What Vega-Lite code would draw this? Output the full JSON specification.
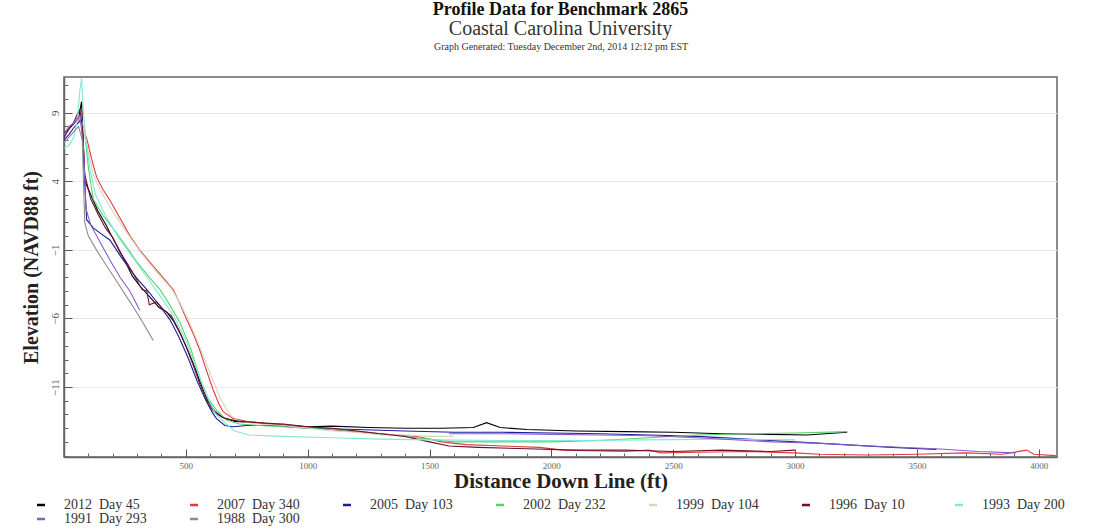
{
  "$schema": "https://vega.github.io/schema/vega-lite/v6.json",
  "width": 993,
  "height": 380,
  "autosize": {"type": "none"},
  "padding": {"left": 64, "top": 77, "right": 50, "bottom": 75},
  "background": "white",
  "config": {
    "font": "Liberation Serif",
    "view": {"stroke": "#666666", "strokeWidth": 1.5}
  },
  "title": {
    "text": "Profile Data for Benchmark 2865",
    "subtitle": "Coastal Carolina University",
    "font": "Liberation Serif",
    "fontSize": 18,
    "fontWeight": "bold",
    "color": "#111111",
    "subtitleFont": "Liberation Serif",
    "subtitleFontSize": 20,
    "subtitleColor": "#333333",
    "subtitlePadding": 0,
    "anchor": "middle",
    "offset": 2
  },
  "data": {
    "values": [
      {"s": "2012\u2002Day 45", "p": 1, "x": 0, "y": 7.5}, {"s": "2012\u2002Day 45", "p": 1, "x": 20, "y": 7.8}, {"s": "2012\u2002Day 45", "p": 1, "x": 40, "y": 8.2}, {"s": "2012\u2002Day 45", "p": 1, "x": 60, "y": 8.6}, {"s": "2012\u2002Day 45", "p": 1, "x": 72, "y": 9.8}, {"s": "2012\u2002Day 45", "p": 1, "x": 78, "y": 7.2}, {"s": "2012\u2002Day 45", "p": 1, "x": 86, "y": 4.0}, {"s": "2012\u2002Day 45", "p": 1, "x": 110, "y": 3.0}, {"s": "2012\u2002Day 45", "p": 1, "x": 140, "y": 1.8}, {"s": "2012\u2002Day 45", "p": 1, "x": 170, "y": 0.9}, {"s": "2012\u2002Day 45", "p": 1, "x": 190, "y": 0.2}, {"s": "2012\u2002Day 45", "p": 1, "x": 220, "y": -0.8}, {"s": "2012\u2002Day 45", "p": 1, "x": 250, "y": -1.8}, {"s": "2012\u2002Day 45", "p": 1, "x": 280, "y": -2.9}, {"s": "2012\u2002Day 45", "p": 1, "x": 310, "y": -3.6}, {"s": "2012\u2002Day 45", "p": 1, "x": 340, "y": -4.2}, {"s": "2012\u2002Day 45", "p": 1, "x": 360, "y": -4.6}, {"s": "2012\u2002Day 45", "p": 1, "x": 390, "y": -5.2}, {"s": "2012\u2002Day 45", "p": 1, "x": 420, "y": -5.5}, {"s": "2012\u2002Day 45", "p": 1, "x": 450, "y": -6.2}, {"s": "2012\u2002Day 45", "p": 1, "x": 480, "y": -7.2}, {"s": "2012\u2002Day 45", "p": 1, "x": 510, "y": -8.4}, {"s": "2012\u2002Day 45", "p": 1, "x": 540, "y": -9.7}, {"s": "2012\u2002Day 45", "p": 1, "x": 560, "y": -10.7}, {"s": "2012\u2002Day 45", "p": 1, "x": 590, "y": -12.0}, {"s": "2012\u2002Day 45", "p": 1, "x": 620, "y": -12.8}, {"s": "2012\u2002Day 45", "p": 1, "x": 650, "y": -13.2}, {"s": "2012\u2002Day 45", "p": 1, "x": 700, "y": -13.5}, {"s": "2012\u2002Day 45", "p": 1, "x": 800, "y": -13.6}, {"s": "2012\u2002Day 45", "p": 1, "x": 900, "y": -13.8}, {"s": "2012\u2002Day 45", "p": 1, "x": 1000, "y": -13.9}, {"s": "2012\u2002Day 45", "p": 1, "x": 1100, "y": -13.85}, {"s": "2012\u2002Day 45", "p": 1, "x": 1250, "y": -13.95}, {"s": "2012\u2002Day 45", "p": 1, "x": 1400, "y": -14.0}, {"s": "2012\u2002Day 45", "p": 1, "x": 1550, "y": -14.0}, {"s": "2012\u2002Day 45", "p": 1, "x": 1680, "y": -13.95}, {"s": "2012\u2002Day 45", "p": 1, "x": 1734, "y": -13.6}, {"s": "2012\u2002Day 45", "p": 1, "x": 1790, "y": -13.95}, {"s": "2012\u2002Day 45", "p": 1, "x": 1900, "y": -14.1}, {"s": "2012\u2002Day 45", "p": 1, "x": 2100, "y": -14.2}, {"s": "2012\u2002Day 45", "p": 1, "x": 2300, "y": -14.25}, {"s": "2012\u2002Day 45", "p": 1, "x": 2500, "y": -14.3}, {"s": "2012\u2002Day 45", "p": 1, "x": 2700, "y": -14.4}, {"s": "2012\u2002Day 45", "p": 1, "x": 2900, "y": -14.45}, {"s": "2012\u2002Day 45", "p": 1, "x": 3050, "y": -14.5}, {"s": "2012\u2002Day 45", "p": 1, "x": 3214, "y": -14.3},

      {"s": "2007\u2002Day 340", "p": 1, "x": 50, "y": 8.6}, {"s": "2007\u2002Day 340", "p": 1, "x": 72, "y": 8.3}, {"s": "2007\u2002Day 340", "p": 1, "x": 95, "y": 7.0}, {"s": "2007\u2002Day 340", "p": 1, "x": 115, "y": 5.5}, {"s": "2007\u2002Day 340", "p": 1, "x": 134, "y": 4.3}, {"s": "2007\u2002Day 340", "p": 1, "x": 160, "y": 3.4}, {"s": "2007\u2002Day 340", "p": 1, "x": 189, "y": 2.6}, {"s": "2007\u2002Day 340", "p": 1, "x": 230, "y": 1.3}, {"s": "2007\u2002Day 340", "p": 1, "x": 271, "y": 0.0}, {"s": "2007\u2002Day 340", "p": 1, "x": 310, "y": -1.0}, {"s": "2007\u2002Day 340", "p": 1, "x": 352, "y": -1.9}, {"s": "2007\u2002Day 340", "p": 1, "x": 400, "y": -2.9}, {"s": "2007\u2002Day 340", "p": 1, "x": 448, "y": -3.9}, {"s": "2007\u2002Day 340", "p": 1, "x": 475, "y": -4.9}, {"s": "2007\u2002Day 340", "p": 1, "x": 504, "y": -6.1}, {"s": "2007\u2002Day 340", "p": 1, "x": 530, "y": -7.1}, {"s": "2007\u2002Day 340", "p": 1, "x": 557, "y": -8.3}, {"s": "2007\u2002Day 340", "p": 1, "x": 585, "y": -9.8}, {"s": "2007\u2002Day 340", "p": 1, "x": 612, "y": -11.2}, {"s": "2007\u2002Day 340", "p": 1, "x": 635, "y": -12.2}, {"s": "2007\u2002Day 340", "p": 1, "x": 653, "y": -12.8}, {"s": "2007\u2002Day 340", "p": 1, "x": 694, "y": -13.3}, {"s": "2007\u2002Day 340", "p": 1, "x": 750, "y": -13.5}, {"s": "2007\u2002Day 340", "p": 1, "x": 850, "y": -13.7}, {"s": "2007\u2002Day 340", "p": 1, "x": 950, "y": -13.8}, {"s": "2007\u2002Day 340", "p": 1, "x": 1050, "y": -14.0}, {"s": "2007\u2002Day 340", "p": 1, "x": 1150, "y": -14.2}, {"s": "2007\u2002Day 340", "p": 1, "x": 1300, "y": -14.4}, {"s": "2007\u2002Day 340", "p": 1, "x": 1450, "y": -14.6}, {"s": "2007\u2002Day 340", "p": 1, "x": 1550, "y": -15.0}, {"s": "2007\u2002Day 340", "p": 1, "x": 1650, "y": -15.2}, {"s": "2007\u2002Day 340", "p": 1, "x": 1800, "y": -15.3}, {"s": "2007\u2002Day 340", "p": 1, "x": 1950, "y": -15.4}, {"s": "2007\u2002Day 340", "p": 1, "x": 2050, "y": -15.6}, {"s": "2007\u2002Day 340", "p": 1, "x": 2300, "y": -15.7}, {"s": "2007\u2002Day 340", "p": 1, "x": 2400, "y": -15.6}, {"s": "2007\u2002Day 340", "p": 1, "x": 2450, "y": -15.8}, {"s": "2007\u2002Day 340", "p": 1, "x": 2600, "y": -15.75}, {"s": "2007\u2002Day 340", "p": 1, "x": 2800, "y": -15.7}, {"s": "2007\u2002Day 340", "p": 1, "x": 3000, "y": -15.8}, {"s": "2007\u2002Day 340", "p": 1, "x": 3100, "y": -15.9}, {"s": "2007\u2002Day 340", "p": 1, "x": 3300, "y": -15.95}, {"s": "2007\u2002Day 340", "p": 1, "x": 3500, "y": -15.9}, {"s": "2007\u2002Day 340", "p": 1, "x": 3700, "y": -15.8}, {"s": "2007\u2002Day 340", "p": 1, "x": 3850, "y": -15.9}, {"s": "2007\u2002Day 340", "p": 1, "x": 3950, "y": -15.6}, {"s": "2007\u2002Day 340", "p": 1, "x": 3980, "y": -15.9}, {"s": "2007\u2002Day 340", "p": 1, "x": 4070, "y": -16.0},

      {"s": "2005\u2002Day 103", "p": 1, "x": 0, "y": 7.0}, {"s": "2005\u2002Day 103", "p": 1, "x": 20, "y": 7.4}, {"s": "2005\u2002Day 103", "p": 1, "x": 40, "y": 7.9}, {"s": "2005\u2002Day 103", "p": 1, "x": 60, "y": 8.3}, {"s": "2005\u2002Day 103", "p": 1, "x": 75, "y": 8.5}, {"s": "2005\u2002Day 103", "p": 1, "x": 85, "y": 4.0}, {"s": "2005\u2002Day 103", "p": 1, "x": 93, "y": 1.2}, {"s": "2005\u2002Day 103", "p": 1, "x": 120, "y": 0.6}, {"s": "2005\u2002Day 103", "p": 1, "x": 150, "y": 0.2}, {"s": "2005\u2002Day 103", "p": 1, "x": 189, "y": -0.3}, {"s": "2005\u2002Day 103", "p": 1, "x": 230, "y": -1.4}, {"s": "2005\u2002Day 103", "p": 1, "x": 270, "y": -2.4}, {"s": "2005\u2002Day 103", "p": 1, "x": 300, "y": -3.1}, {"s": "2005\u2002Day 103", "p": 1, "x": 340, "y": -3.9}, {"s": "2005\u2002Day 103", "p": 1, "x": 390, "y": -5.0}, {"s": "2005\u2002Day 103", "p": 1, "x": 435, "y": -6.1}, {"s": "2005\u2002Day 103", "p": 1, "x": 470, "y": -7.3}, {"s": "2005\u2002Day 103", "p": 1, "x": 510, "y": -8.9}, {"s": "2005\u2002Day 103", "p": 1, "x": 545, "y": -10.5}, {"s": "2005\u2002Day 103", "p": 1, "x": 580, "y": -11.9}, {"s": "2005\u2002Day 103", "p": 1, "x": 610, "y": -12.9}, {"s": "2005\u2002Day 103", "p": 1, "x": 626, "y": -13.3}, {"s": "2005\u2002Day 103", "p": 1, "x": 660, "y": -13.8}, {"s": "2005\u2002Day 103", "p": 1, "x": 694, "y": -13.9}, {"s": "2005\u2002Day 103", "p": 1, "x": 750, "y": -13.8}, {"s": "2005\u2002Day 103", "p": 1, "x": 850, "y": -13.8}, {"s": "2005\u2002Day 103", "p": 1, "x": 1000, "y": -14.0}, {"s": "2005\u2002Day 103", "p": 1, "x": 1200, "y": -14.1}, {"s": "2005\u2002Day 103", "p": 1, "x": 1400, "y": -14.2}, {"s": "2005\u2002Day 103", "p": 1, "x": 1600, "y": -14.3}, {"s": "2005\u2002Day 103", "p": 1, "x": 1800, "y": -14.3}, {"s": "2005\u2002Day 103", "p": 1, "x": 2000, "y": -14.35}, {"s": "2005\u2002Day 103", "p": 1, "x": 2200, "y": -14.4}, {"s": "2005\u2002Day 103", "p": 1, "x": 2400, "y": -14.5}, {"s": "2005\u2002Day 103", "p": 1, "x": 2600, "y": -14.6}, {"s": "2005\u2002Day 103", "p": 1, "x": 2800, "y": -14.8}, {"s": "2005\u2002Day 103", "p": 1, "x": 3000, "y": -15.0}, {"s": "2005\u2002Day 103", "p": 1, "x": 3200, "y": -15.2}, {"s": "2005\u2002Day 103", "p": 1, "x": 3400, "y": -15.4}, {"s": "2005\u2002Day 103", "p": 1, "x": 3580, "y": -15.55},

      {"s": "2002\u2002Day 232", "p": 1, "x": 60, "y": 8.6}, {"s": "2002\u2002Day 232", "p": 1, "x": 72, "y": 8.5}, {"s": "2002\u2002Day 232", "p": 1, "x": 85, "y": 7.5}, {"s": "2002\u2002Day 232", "p": 1, "x": 100, "y": 5.0}, {"s": "2002\u2002Day 232", "p": 1, "x": 120, "y": 2.7}, {"s": "2002\u2002Day 232", "p": 1, "x": 160, "y": 1.5}, {"s": "2002\u2002Day 232", "p": 1, "x": 200, "y": 0.6}, {"s": "2002\u2002Day 232", "p": 1, "x": 257, "y": -0.8}, {"s": "2002\u2002Day 232", "p": 1, "x": 300, "y": -1.9}, {"s": "2002\u2002Day 232", "p": 1, "x": 350, "y": -3.0}, {"s": "2002\u2002Day 232", "p": 1, "x": 394, "y": -3.9}, {"s": "2002\u2002Day 232", "p": 1, "x": 430, "y": -4.9}, {"s": "2002\u2002Day 232", "p": 1, "x": 476, "y": -6.3}, {"s": "2002\u2002Day 232", "p": 1, "x": 520, "y": -8.2}, {"s": "2002\u2002Day 232", "p": 1, "x": 557, "y": -10.3}, {"s": "2002\u2002Day 232", "p": 1, "x": 590, "y": -11.8}, {"s": "2002\u2002Day 232", "p": 1, "x": 626, "y": -12.7}, {"s": "2002\u2002Day 232", "p": 1, "x": 667, "y": -13.4}, {"s": "2002\u2002Day 232", "p": 1, "x": 720, "y": -13.7}, {"s": "2002\u2002Day 232", "p": 1, "x": 800, "y": -13.8}, {"s": "2002\u2002Day 232", "p": 1, "x": 900, "y": -13.9}, {"s": "2002\u2002Day 232", "p": 1, "x": 1000, "y": -14.0}, {"s": "2002\u2002Day 232", "p": 1, "x": 1100, "y": -14.1}, {"s": "2002\u2002Day 232", "p": 1, "x": 1200, "y": -14.2}, {"s": "2002\u2002Day 232", "p": 1, "x": 1300, "y": -14.4}, {"s": "2002\u2002Day 232", "p": 1, "x": 1400, "y": -14.6}, {"s": "2002\u2002Day 232", "p": 1, "x": 1500, "y": -14.8}, {"s": "2002\u2002Day 232", "p": 1, "x": 1600, "y": -15.0}, {"s": "2002\u2002Day 232", "p": 1, "x": 1800, "y": -15.0}, {"s": "2002\u2002Day 232", "p": 1, "x": 2000, "y": -15.0}, {"s": "2002\u2002Day 232", "p": 1, "x": 2200, "y": -14.9}, {"s": "2002\u2002Day 232", "p": 1, "x": 2400, "y": -14.7}, {"s": "2002\u2002Day 232", "p": 1, "x": 2600, "y": -14.5}, {"s": "2002\u2002Day 232", "p": 1, "x": 2800, "y": -14.4}, {"s": "2002\u2002Day 232", "p": 1, "x": 3000, "y": -14.35}, {"s": "2002\u2002Day 232", "p": 1, "x": 3214, "y": -14.25},

      {"s": "1999\u2002Day 104", "p": 1, "x": 55, "y": 8.8}, {"s": "1999\u2002Day 104", "p": 1, "x": 75, "y": 8.2}, {"s": "1999\u2002Day 104", "p": 1, "x": 95, "y": 6.5}, {"s": "1999\u2002Day 104", "p": 1, "x": 120, "y": 4.5}, {"s": "1999\u2002Day 104", "p": 1, "x": 150, "y": 3.3}, {"s": "1999\u2002Day 104", "p": 1, "x": 200, "y": 1.8}, {"s": "1999\u2002Day 104", "p": 1, "x": 260, "y": 0.2}, {"s": "1999\u2002Day 104", "p": 1, "x": 320, "y": -1.3}, {"s": "1999\u2002Day 104", "p": 1, "x": 380, "y": -2.6}, {"s": "1999\u2002Day 104", "p": 1, "x": 440, "y": -3.8}, {"s": "1999\u2002Day 104", "p": 1, "x": 480, "y": -5.0}, {"s": "1999\u2002Day 104", "p": 1, "x": 520, "y": -6.5}, {"s": "1999\u2002Day 104", "p": 1, "x": 560, "y": -8.2}, {"s": "1999\u2002Day 104", "p": 1, "x": 600, "y": -10.0}, {"s": "1999\u2002Day 104", "p": 1, "x": 640, "y": -11.8}, {"s": "1999\u2002Day 104", "p": 1, "x": 680, "y": -13.0}, {"s": "1999\u2002Day 104", "p": 1, "x": 720, "y": -13.5}, {"s": "1999\u2002Day 104", "p": 1, "x": 800, "y": -13.7}, {"s": "1999\u2002Day 104", "p": 1, "x": 900, "y": -13.8}, {"s": "1999\u2002Day 104", "p": 1, "x": 1000, "y": -14.0}, {"s": "1999\u2002Day 104", "p": 1, "x": 1100, "y": -14.2}, {"s": "1999\u2002Day 104", "p": 1, "x": 1200, "y": -14.3}, {"s": "1999\u2002Day 104", "p": 1, "x": 1300, "y": -14.5}, {"s": "1999\u2002Day 104", "p": 1, "x": 1400, "y": -14.5}, {"s": "1999\u2002Day 104", "p": 1, "x": 1500, "y": -14.6}, {"s": "1999\u2002Day 104", "p": 1, "x": 1600, "y": -14.6},

      {"s": "1996\u2002Day 10", "p": 1, "x": 0, "y": 7.2}, {"s": "1996\u2002Day 10", "p": 1, "x": 20, "y": 7.8}, {"s": "1996\u2002Day 10", "p": 1, "x": 40, "y": 8.3}, {"s": "1996\u2002Day 10", "p": 1, "x": 55, "y": 8.9}, {"s": "1996\u2002Day 10", "p": 1, "x": 65, "y": 9.2}, {"s": "1996\u2002Day 10", "p": 1, "x": 75, "y": 8.0}, {"s": "1996\u2002Day 10", "p": 1, "x": 85, "y": 4.5}, {"s": "1996\u2002Day 10", "p": 1, "x": 110, "y": 2.7}, {"s": "1996\u2002Day 10", "p": 1, "x": 140, "y": 1.6}, {"s": "1996\u2002Day 10", "p": 1, "x": 170, "y": 0.6}, {"s": "1996\u2002Day 10", "p": 1, "x": 200, "y": -0.1}, {"s": "1996\u2002Day 10", "p": 1, "x": 230, "y": -1.2}, {"s": "1996\u2002Day 10", "p": 1, "x": 260, "y": -2.0}, {"s": "1996\u2002Day 10", "p": 1, "x": 290, "y": -2.9}, {"s": "1996\u2002Day 10", "p": 1, "x": 320, "y": -3.9}, {"s": "1996\u2002Day 10", "p": 1, "x": 340, "y": -4.0}, {"s": "1996\u2002Day 10", "p": 1, "x": 350, "y": -5.0}, {"s": "1996\u2002Day 10", "p": 1, "x": 380, "y": -4.8}, {"s": "1996\u2002Day 10", "p": 1, "x": 410, "y": -5.4}, {"s": "1996\u2002Day 10", "p": 1, "x": 440, "y": -5.8}, {"s": "1996\u2002Day 10", "p": 1, "x": 470, "y": -6.8}, {"s": "1996\u2002Day 10", "p": 1, "x": 500, "y": -8.0}, {"s": "1996\u2002Day 10", "p": 1, "x": 530, "y": -9.4}, {"s": "1996\u2002Day 10", "p": 1, "x": 560, "y": -10.9}, {"s": "1996\u2002Day 10", "p": 1, "x": 590, "y": -12.2}, {"s": "1996\u2002Day 10", "p": 1, "x": 620, "y": -12.9}, {"s": "1996\u2002Day 10", "p": 1, "x": 660, "y": -13.3}, {"s": "1996\u2002Day 10", "p": 1, "x": 720, "y": -13.5}, {"s": "1996\u2002Day 10", "p": 1, "x": 800, "y": -13.6}, {"s": "1996\u2002Day 10", "p": 1, "x": 900, "y": -13.7}, {"s": "1996\u2002Day 10", "p": 1, "x": 1000, "y": -13.9}, {"s": "1996\u2002Day 10", "p": 1, "x": 1100, "y": -14.0}, {"s": "1996\u2002Day 10", "p": 1, "x": 1200, "y": -14.2}, {"s": "1996\u2002Day 10", "p": 1, "x": 1300, "y": -14.4}, {"s": "1996\u2002Day 10", "p": 1, "x": 1400, "y": -14.6}, {"s": "1996\u2002Day 10", "p": 1, "x": 1500, "y": -15.0}, {"s": "1996\u2002Day 10", "p": 1, "x": 1580, "y": -15.3}, {"s": "1996\u2002Day 10", "p": 1, "x": 1700, "y": -15.4}, {"s": "1996\u2002Day 10", "p": 1, "x": 1900, "y": -15.5}, {"s": "1996\u2002Day 10", "p": 1, "x": 2100, "y": -15.6}, {"s": "1996\u2002Day 10", "p": 1, "x": 2300, "y": -15.6}, {"s": "1996\u2002Day 10", "p": 1, "x": 2500, "y": -15.7}, {"s": "1996\u2002Day 10", "p": 1, "x": 2700, "y": -15.6}, {"s": "1996\u2002Day 10", "p": 1, "x": 2900, "y": -15.7}, {"s": "1996\u2002Day 10", "p": 1, "x": 3000, "y": -15.6},

      {"s": "1993\u2002Day 200", "p": 1, "x": 0, "y": 6.4}, {"s": "1993\u2002Day 200", "p": 1, "x": 20, "y": 6.6}, {"s": "1993\u2002Day 200", "p": 1, "x": 40, "y": 7.2}, {"s": "1993\u2002Day 200", "p": 1, "x": 55, "y": 8.5}, {"s": "1993\u2002Day 200", "p": 1, "x": 65, "y": 10.6}, {"s": "1993\u2002Day 200", "p": 1, "x": 72, "y": 11.5}, {"s": "1993\u2002Day 200", "p": 1, "x": 80, "y": 9.0}, {"s": "1993\u2002Day 200", "p": 1, "x": 90, "y": 7.0}, {"s": "1993\u2002Day 200", "p": 1, "x": 105, "y": 5.0}, {"s": "1993\u2002Day 200", "p": 1, "x": 130, "y": 3.0}, {"s": "1993\u2002Day 200", "p": 1, "x": 170, "y": 1.5}, {"s": "1993\u2002Day 200", "p": 1, "x": 220, "y": 0.0}, {"s": "1993\u2002Day 200", "p": 1, "x": 280, "y": -1.5}, {"s": "1993\u2002Day 200", "p": 1, "x": 340, "y": -3.0}, {"s": "1993\u2002Day 200", "p": 1, "x": 400, "y": -4.5}, {"s": "1993\u2002Day 200", "p": 1, "x": 450, "y": -5.8}, {"s": "1993\u2002Day 200", "p": 1, "x": 500, "y": -7.6}, {"s": "1993\u2002Day 200", "p": 1, "x": 540, "y": -9.5}, {"s": "1993\u2002Day 200", "p": 1, "x": 580, "y": -11.4}, {"s": "1993\u2002Day 200", "p": 1, "x": 620, "y": -12.9}, {"s": "1993\u2002Day 200", "p": 1, "x": 660, "y": -13.6}, {"s": "1993\u2002Day 200", "p": 1, "x": 700, "y": -14.2}, {"s": "1993\u2002Day 200", "p": 1, "x": 760, "y": -14.5}, {"s": "1993\u2002Day 200", "p": 1, "x": 900, "y": -14.6}, {"s": "1993\u2002Day 200", "p": 1, "x": 1100, "y": -14.7}, {"s": "1993\u2002Day 200", "p": 1, "x": 1300, "y": -14.8}, {"s": "1993\u2002Day 200", "p": 1, "x": 1500, "y": -14.85}, {"s": "1993\u2002Day 200", "p": 1, "x": 1800, "y": -14.9}, {"s": "1993\u2002Day 200", "p": 1, "x": 2100, "y": -14.9}, {"s": "1993\u2002Day 200", "p": 1, "x": 2400, "y": -14.85}, {"s": "1993\u2002Day 200", "p": 1, "x": 2700, "y": -14.8}, {"s": "1993\u2002Day 200", "p": 1, "x": 3000, "y": -14.85},

      {"s": "1991\u2002Day 293", "p": 1, "x": 0, "y": 7.4}, {"s": "1991\u2002Day 293", "p": 1, "x": 20, "y": 8.0}, {"s": "1991\u2002Day 293", "p": 1, "x": 45, "y": 8.3}, {"s": "1991\u2002Day 293", "p": 1, "x": 65, "y": 8.8}, {"s": "1991\u2002Day 293", "p": 1, "x": 80, "y": 6.5}, {"s": "1991\u2002Day 293", "p": 1, "x": 90, "y": 2.0}, {"s": "1991\u2002Day 293", "p": 1, "x": 110, "y": 0.8}, {"s": "1991\u2002Day 293", "p": 1, "x": 150, "y": -0.5}, {"s": "1991\u2002Day 293", "p": 1, "x": 190, "y": -1.8}, {"s": "1991\u2002Day 293", "p": 1, "x": 230, "y": -3.0}, {"s": "1991\u2002Day 293", "p": 1, "x": 270, "y": -4.0}, {"s": "1991\u2002Day 293", "p": 1, "x": 311, "y": -5.4},
      {"s": "1991\u2002Day 293", "p": 2, "x": 1580, "y": -14.4}, {"s": "1991\u2002Day 293", "p": 2, "x": 1800, "y": -14.4}, {"s": "1991\u2002Day 293", "p": 2, "x": 2000, "y": -14.45}, {"s": "1991\u2002Day 293", "p": 2, "x": 2200, "y": -14.5}, {"s": "1991\u2002Day 293", "p": 2, "x": 2400, "y": -14.55}, {"s": "1991\u2002Day 293", "p": 2, "x": 2600, "y": -14.7}, {"s": "1991\u2002Day 293", "p": 2, "x": 2800, "y": -14.9}, {"s": "1991\u2002Day 293", "p": 2, "x": 2907, "y": -15.0}, {"s": "1991\u2002Day 293", "p": 2, "x": 3100, "y": -15.1}, {"s": "1991\u2002Day 293", "p": 2, "x": 3300, "y": -15.3}, {"s": "1991\u2002Day 293", "p": 2, "x": 3579, "y": -15.5}, {"s": "1991\u2002Day 293", "p": 2, "x": 3750, "y": -15.7}, {"s": "1991\u2002Day 293", "p": 2, "x": 3907, "y": -15.8},

      {"s": "1988\u2002Day 300", "p": 1, "x": 0, "y": 6.8}, {"s": "1988\u2002Day 300", "p": 1, "x": 20, "y": 7.2}, {"s": "1988\u2002Day 300", "p": 1, "x": 40, "y": 7.6}, {"s": "1988\u2002Day 300", "p": 1, "x": 60, "y": 8.0}, {"s": "1988\u2002Day 300", "p": 1, "x": 75, "y": 7.0}, {"s": "1988\u2002Day 300", "p": 1, "x": 85, "y": 1.0}, {"s": "1988\u2002Day 300", "p": 1, "x": 100, "y": 0.0}, {"s": "1988\u2002Day 300", "p": 1, "x": 140, "y": -1.2}, {"s": "1988\u2002Day 300", "p": 1, "x": 180, "y": -2.3}, {"s": "1988\u2002Day 300", "p": 1, "x": 220, "y": -3.4}, {"s": "1988\u2002Day 300", "p": 1, "x": 260, "y": -4.5}, {"s": "1988\u2002Day 300", "p": 1, "x": 300, "y": -5.6}, {"s": "1988\u2002Day 300", "p": 1, "x": 330, "y": -6.5}, {"s": "1988\u2002Day 300", "p": 1, "x": 366, "y": -7.6}
    ]
  },
  "layer": [
    {
      "mark": {"type": "line", "strokeWidth": 1.1, "clip": true},
      "encoding": {
        "x": {
          "field": "x", "type": "quantitative",
          "scale": {"domain": [0, 4075], "nice": false, "zero": false},
          "axis": {
            "orient": "bottom",
            "values": [500, 1000, 1500, 2000, 2500, 3000, 3500, 4000],
            "format": "d",
            "grid": false,
            "tickSize": -8, "tickColor": "#555555", "tickWidth": 1,
            "domainColor": "#666666", "domainWidth": 1.5,
            "labelPadding": 12, "labelFontSize": 9, "labelColor": "#666666",
            "labelFont": "Liberation Serif",
            "title": "Distance Down Line (ft)",
            "titleFont": "Liberation Serif", "titleFontSize": 21, "titleFontWeight": "bold",
            "titleColor": "#222222", "titlePadding": 0
          }
        },
        "y": {
          "field": "y", "type": "quantitative",
          "scale": {"domain": [-16.1, 11.6], "nice": false, "zero": false},
          "axis": {
            "orient": "left",
            "values": [-11, -6, -1, 4, 9],
            "grid": true, "gridColor": "#e8e8e8", "gridWidth": 1,
            "tickSize": -8, "tickColor": "#555555", "tickWidth": 1,
            "domainColor": "#666666", "domainWidth": 1.5,
            "labelPadding": 12, "labelFontSize": 11, "labelColor": "#555555",
            "labelFont": "Liberation Serif", "labelAngle": -90,
            "labelAlign": "center", "labelBaseline": "bottom",
            "title": "Elevation (NAVD88 ft)",
            "titleFont": "Liberation Serif", "titleFontSize": 20, "titleFontWeight": "bold",
            "titleColor": "#222222", "titlePadding": 8
          }
        },
        "color": {
          "field": "s", "type": "nominal",
          "scale": {
            "domain": ["2012\u2002Day 45", "2007\u2002Day 340", "2005\u2002Day 103", "2002\u2002Day 232", "1999\u2002Day 104", "1996\u2002Day 10", "1993\u2002Day 200", "1991\u2002Day 293", "1988\u2002Day 300"],
            "range": ["#000000", "#e03a3e", "#1c1c9c", "#55d46a", "#d6d6bc", "#6e0f2d", "#7fe8d8", "#8a5cc8", "#8c8c8c"]
          },
          "legend": {
            "orient": "none", "legendX": -30, "legendY": 421,
            "direction": "horizontal", "columns": 7, "gridAlign": "all",
            "columnPadding": 38, "rowPadding": -2,
            "symbolType": "stroke", "symbolSize": 64, "symbolStrokeWidth": 2.5,
            "labelFont": "Liberation Serif", "labelFontSize": 14, "labelColor": "#333333",
            "labelOffset": 16, "title": null, "padding": 0
          }
        },
        "detail": {"field": "p", "type": "nominal"}
      }
    },
    {
      "mark": {"type": "point", "opacity": 0},
      "encoding": {
        "x": {
          "field": "x", "type": "quantitative",
          "scale": {"domain": [0, 4075], "nice": false, "zero": false},
          "axis": {
            "orient": "bottom",
            "values": [100, 200, 300, 400, 600, 700, 800, 900, 1100, 1200, 1300, 1400, 1600, 1700, 1800, 1900, 2100, 2200, 2300, 2400, 2600, 2700, 2800, 2900, 3100, 3200, 3300, 3400, 3600, 3700, 3800, 3900],
            "labels": false, "domain": false, "grid": false, "title": null,
            "tickSize": -4, "tickColor": "#666666", "tickWidth": 1
          }
        },
        "y": {
          "field": "y", "type": "quantitative",
          "scale": {"domain": [-16.1, 11.6], "nice": false, "zero": false},
          "axis": {
            "orient": "left",
            "values": [-16, -15, -14, -13, -12, -10, -9, -8, -7, -5, -4, -3, -2, 0, 1, 2, 3, 5, 6, 7, 8, 10, 11],
            "labels": false, "domain": false, "grid": false, "title": null,
            "tickSize": -4, "tickColor": "#666666", "tickWidth": 1
          }
        }
      }
    },
    {
      "mark": {"type": "point", "opacity": 0},
      "encoding": {
        "x": {
          "field": "x", "type": "quantitative",
          "scale": {"domain": [0, 4075], "nice": false, "zero": false},
          "axis": {
            "orient": "top", "values": [], "labels": false, "ticks": false, "domain": false, "grid": false,
            "title": "Graph Generated: Tuesday December 2nd, 2014 12:12 pm EST",
            "titleFont": "Liberation Serif", "titleFontSize": 10, "titleFontWeight": "normal",
            "titleColor": "#333333", "titlePadding": 26
          }
        }
      }
    }
  ],
  "resolve": {"axis": {"x": "independent", "y": "independent"}}
}
